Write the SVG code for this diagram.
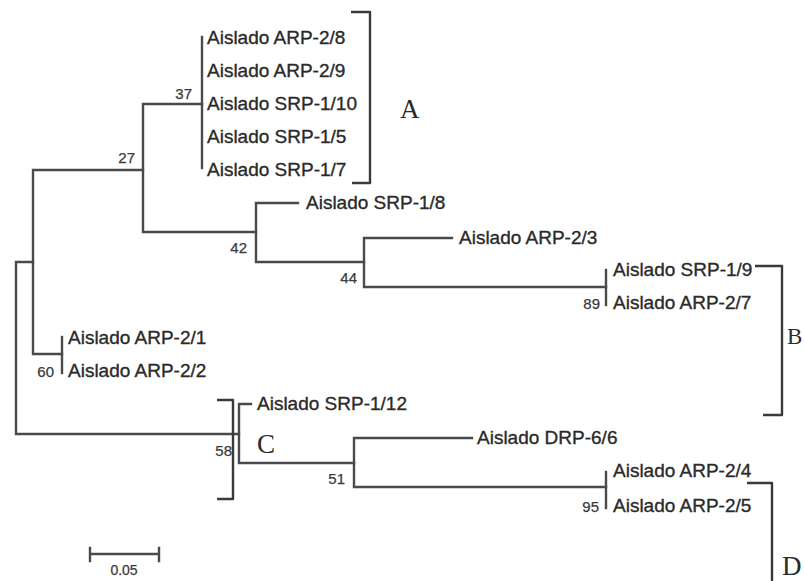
<svg xmlns="http://www.w3.org/2000/svg" width="804" height="581" viewBox="0 0 804 581">
<style>
.br{fill:none;stroke:#4a4a4a;stroke-width:2.4;stroke-linejoin:round;stroke-linecap:square}
.lbl{font-family:"Liberation Sans",Arial,sans-serif;font-size:19px;fill:#2a2a2a;stroke:#2a2a2a;stroke-width:0.35}
.num{font-family:"Liberation Sans",Arial,sans-serif;font-size:15px;fill:#3a3a3a;stroke:#3a3a3a;stroke-width:0.25;text-anchor:end}
.grp{font-family:"Liberation Serif","Times New Roman",serif;font-size:27px;fill:#2a2a2a}
.brk{fill:none;stroke:#3a3a3a;stroke-width:2.4;stroke-linejoin:round}
</style>
<rect width="804" height="581" fill="#ffffff"/>
<g id="connectors">
<path class="br" d="M16,262 V434 M16,262 H33 M16,434 H239"/>
<path class="br" d="M33,170 V354 M33,170 H143 M33,354 H62"/>
<path class="br" d="M143,104 V232 M143,104 H202 M143,232 H256"/>
<path class="br" d="M202,37 V168"/>
<path class="br" d="M256,203 V262 M256,203 H298 M256,262 H364"/>
<path class="br" d="M364,238 V287 M364,238 H452 M364,287 H606"/>
<path class="br" d="M606,270 V305"/>
<path class="br" d="M62,337 V373"/>
<path class="br" d="M239,404 V463 M239,404 H251 M239,463 H354"/>
<path class="br" d="M354,438 V487 M354,438 H472 M354,487 H606"/>
<path class="br" d="M606,472 V508"/>
<path class="br" d="M90,554 H159 M90,548 V561 M159,548 V561"/>
</g>
<g id="clusterA">
<text class="lbl" x="207" y="44">Aislado ARP-2/8</text>
<text class="lbl" x="207" y="77">Aislado ARP-2/9</text>
<text class="lbl" x="207" y="110">Aislado SRP-1/10</text>
<text class="lbl" x="207" y="143">Aislado SRP-1/5</text>
<text class="lbl" x="207" y="176">Aislado SRP-1/7</text>
<text class="num" x="192" y="99">37</text>
<text class="num" x="135" y="163">27</text>
</g>
<g id="n-srp18"><text class="lbl" x="306" y="209">Aislado SRP-1/8</text><text class="num" x="247" y="253">42</text></g>
<g id="n-arp23"><text class="lbl" x="459" y="244">Aislado ARP-2/3</text><text class="num" x="357" y="283">44</text></g>
<g id="n-89">
<text class="lbl" x="613" y="276">Aislado SRP-1/9</text>
<text class="lbl" x="613" y="309">Aislado ARP-2/7</text>
<text class="num" x="600" y="309">89</text>
</g>
<g id="n-60">
<text class="lbl" x="68" y="344">Aislado ARP-2/1</text>
<text class="lbl" x="68" y="377">Aislado ARP-2/2</text>
<text class="num" x="54" y="377">60</text>
</g>
<g id="n-srp112"><text class="lbl" x="257" y="410">Aislado SRP-1/12</text><text class="num" x="232" y="456">58</text></g>
<g id="n-drp66"><text class="lbl" x="477" y="444">Aislado DRP-6/6</text><text class="num" x="345" y="484">51</text></g>
<g id="n-95">
<text class="lbl" x="613" y="477">Aislado ARP-2/4</text>
<text class="lbl" x="613" y="512">Aislado ARP-2/5</text>
<text class="num" x="599" y="512">95</text>
</g>
<g id="bracketA"><path class="brk" d="M351,12 H370 V183 H352"/><text class="grp" x="400" y="118">A</text></g>
<g id="bracketB"><path class="brk" d="M755,266 H782 V415 H763"/><text class="grp" x="787" y="344" style="font-size:23px">B</text></g>
<g id="bracketC"><path class="brk" d="M217,400 H233 V499 H217"/><text class="grp" x="257" y="453">C</text></g>
<g id="bracketD"><path class="brk" d="M747,483 H772 V581"/><text class="grp" x="782" y="575">D</text></g>
<g id="scale"><text class="num" x="124" y="575" style="text-anchor:middle;font-size:14px">0.05</text></g>
</svg>
